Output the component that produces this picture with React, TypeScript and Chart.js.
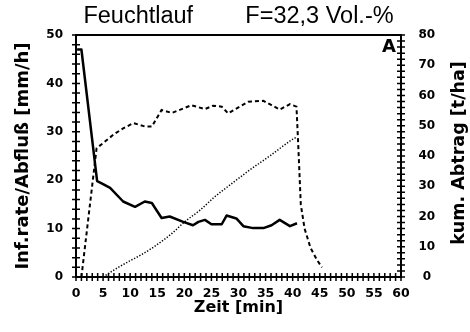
import React, { useEffect, useRef } from "react";
import { Chart, registerables } from "chart.js";

Chart.register(...registerables);

// Infiltrationsrate [mm/h] (solid)
const infTime = [0.2, 1, 3.9, 5, 6.3, 8.7, 10.9, 12.7, 14, 15.8, 17.3, 19.8, 21.6, 22.6, 23.8, 25, 26.9, 27.8, 29.6, 30.9, 32.7, 34.6, 36.1, 37.6, 39.5, 40.8];
const infRate = [47, 47, 19.8, 19.2, 18.4, 15.6, 14.5, 15.6, 15.3, 12.2, 12.5, 11.4, 10.7, 11.4, 11.8, 10.9, 10.9, 12.7, 12.1, 10.5, 10.1, 10.1, 10.7, 11.8, 10.5, 11.1];

// Abfluss [mm/h] (dashed)
const abfTime = [1, 3.8, 5.7, 7, 8.7, 10.6, 12.7, 14, 15.8, 17.7, 19.8, 21.3, 23.8, 25.3, 26.9, 28.1, 29.6, 31.8, 34.6, 36.1, 37.6, 39.5, 40.7, 41, 41.5, 42.2, 43.3, 44.5, 45.4];
const abfluss = [0, 26.6, 28.3, 29.5, 30.7, 31.8, 31.1, 31.1, 34.5, 33.9, 34.8, 35.5, 34.7, 35.4, 35.2, 33.8, 34.8, 36.2, 36.4, 35.5, 34.6, 35.7, 35.2, 28, 15, 10, 6, 3.5, 2];

// kum. Abtrag [t/ha] (dotted, right axis)
const abtTime = [5, 7, 9.7, 12, 14, 16, 17.7, 20.1, 22.9, 25.6, 28.4, 32.1, 36, 39.8, 40.8];
const abtrag = [0, 2.3, 5.1, 7.3, 9.5, 12, 14.4, 18.3, 22.1, 26.5, 30.4, 35.4, 40.3, 45.3, 46.3];

const titleText = "Feuchtlauf        F=32,3 Vol.-%";
const xTitle = "Zeit [min]";
const yTitle = "Inf.rate/Abfluß [mm/h]";
const y2Title = "kum. Abtrag [t/ha]";
const cornerLabel = "A";

const pts = (xs: number[], ys: number[]) => xs.map((x, i) => ({ x, y: ys[i] }));

const decoPlugin = {
  id: "deco",
  afterDraw(chart: any) {
    const { ctx, chartArea: a, scales } = chart;
    ctx.save();
    ctx.strokeStyle = "#000";
    ctx.lineWidth = 2;
    ctx.beginPath();
    ctx.moveTo(a.left - 1, a.top);
    ctx.lineTo(a.right + 1, a.top);
    ctx.stroke();
    ctx.lineWidth = 1.5;
    ctx.beginPath();
    const sx = scales.x;
    for (let v = sx.min; v <= sx.max + 1e-6; v += 1) {
      const p = sx.getPixelForValue(v);
      ctx.moveTo(p, a.bottom - 4);
      ctx.lineTo(p, a.bottom + 4);
    }
    const sy = scales.y;
    for (let v = sy.min; v <= sy.max + 1e-6; v += 2) {
      const p = sy.getPixelForValue(v);
      ctx.moveTo(a.left - 4, p);
      ctx.lineTo(a.left + 4, p);
    }
    const sy2 = scales.y2;
    for (let v = sy2.min; v <= sy2.max + 1e-6; v += 2) {
      const p = sy2.getPixelForValue(v);
      ctx.moveTo(a.right - 4, p);
      ctx.lineTo(a.right + 4, p);
    }
    ctx.stroke();
    ctx.fillStyle = "#000";
    ctx.font = "bold 18px 'DejaVu Sans'";
    ctx.textAlign = "center";
    ctx.textBaseline = "middle";
    ctx.fillText(cornerLabel, a.right - 12, a.top + 12);
    ctx.translate(459, 153);
    ctx.rotate(-Math.PI / 2);
    ctx.font = "bold 17.5px 'DejaVu Sans'";
    ctx.fillText(y2Title, 0, 0);
    ctx.restore();
  },
};

export default function App() {
  const ref = useRef<HTMLCanvasElement>(null);
  useEffect(() => {
    document.body.style.margin = "0";
    const canvas = ref.current!;
    const tickFont = { family: "'DejaVu Sans'", weight: "bold" as const, size: 12 };
    const chart = new Chart(canvas, {
      type: "line",
      data: {
        datasets: [
          {
            data: pts(infTime, infRate),
            yAxisID: "y",
            borderColor: "#000",
            borderWidth: 2.5,
            pointRadius: 0,
            tension: 0,
            borderJoinStyle: "round",
          },
          {
            data: pts(abfTime, abfluss),
            yAxisID: "y",
            borderColor: "#000",
            borderWidth: 2,
            borderDash: [4, 3],
            pointRadius: 0,
            tension: 0,
          },
          {
            data: pts(abtTime, abtrag),
            yAxisID: "y2",
            borderColor: "#000",
            borderWidth: 1.5,
            borderDash: [1.3, 1.7],
            pointRadius: 0,
            cubicInterpolationMode: "monotone",
          },
        ],
      },
      options: {
        animation: false,
        responsive: false,
        devicePixelRatio: 1,
        plugins: {
          legend: { display: false },
          tooltip: { enabled: false },
          title: {
            display: true,
            text: titleText,
            fullSize: false,
            color: "#000",
            font: { family: "'Liberation Sans'", size: 23.5, weight: "normal" },
            padding: { top: 2.6, bottom: 4.2 },
          },
        },
        scales: {
          x: {
            type: "linear",
            min: 0,
            max: 60,
            grid: { display: false, drawTicks: false },
            border: { display: true, color: "#000", width: 2 },
            ticks: { stepSize: 5, color: "#000", font: { ...tickFont, size: 12.5 }, padding: 9, maxRotation: 0 },
            title: {
              display: true,
              text: xTitle,
              color: "#000",
              font: { family: "'DejaVu Sans'", weight: "bold", size: 16 },
              padding: { top: 0, bottom: 15 },
            },
            afterFit: (s: any) => {
              s.height = 55;
            },
          },
          y: {
            position: "left",
            min: 0,
            max: 50,
            grid: { display: false, drawTicks: false },
            border: { display: true, color: "#000", width: 2 },
            ticks: { stepSize: 10, color: "#000", font: tickFont, padding: 13 },
            title: {
              display: true,
              text: yTitle,
              color: "#000",
              font: { family: "'DejaVu Sans'", weight: "bold", size: 18 },
              padding: { top: 13, bottom: 0 },
            },
            afterFit: (s: any) => {
              s.width = 76;
            },
          },
          y2: {
            position: "right",
            min: 0,
            max: 80,
            grid: { display: false, drawTicks: false },
            border: { display: true, color: "#000", width: 2 },
            ticks: { stepSize: 10, color: "#000", font: tickFont, padding: 17.5, crossAlign: "center" },
            afterFit: (s: any) => {
              s.width = 69;
            },
          },
        },
      },
      plugins: [decoPlugin],
    });
    return () => chart.destroy();
  }, []);
  return (
    <div style={{ width: 470, height: 332 }}>
      <canvas ref={ref} width={470} height={332} style={{ width: 470, height: 332, display: "block" }} />
    </div>
  );
}
